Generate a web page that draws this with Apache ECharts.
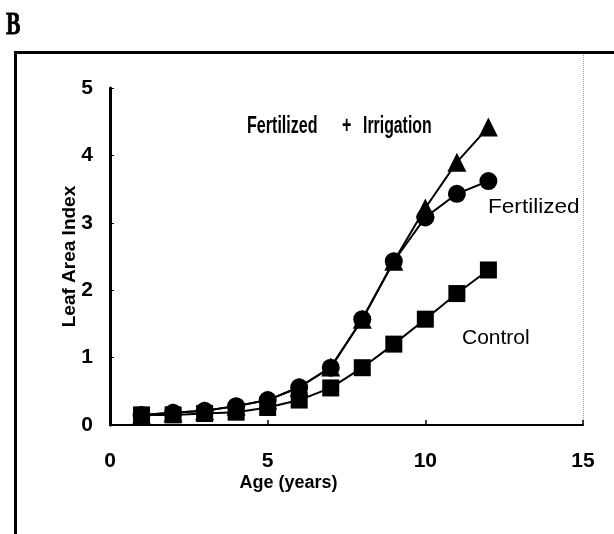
<!DOCTYPE html>
<html><head><meta charset="utf-8">
<script src="https://cdn.jsdelivr.net/npm/echarts@6/dist/echarts.min.js"></script>
<style>html,body{margin:0;padding:0;background:#fff}#c{width:614px;height:534px}</style>
</head><body><div id="c"></div>
<script>
// Data
const ages = [1, 2, 3, 4, 5, 6, 7, 8, 9, 10, 11, 12];
const controlLAI = [0.15, 0.15, 0.17, 0.19, 0.26, 0.37, 0.55, 0.85, 1.20, 1.57, 1.95, 2.30];
const fertilizedLAI = [0.15, 0.18, 0.21, 0.28, 0.37, 0.56, 0.85, 1.57, 2.43, 3.08, 3.43, 3.62];
const fertIrrigLAI = [0.15, 0.18, 0.21, 0.28, 0.37, 0.56, 0.86, 1.57, 2.43, 3.22, 3.90, 4.42];
const xTicks = [0, 5, 10, 15];
const yTicks = [0, 1, 2, 3, 4, 5];

const pairs = (ys) => ages.map((a, i) => [a, ys[i]]);
const chart = echarts.init(document.getElementById('c'), null, {renderer: 'canvas'});
const sans = '"Liberation Sans", Arial, sans-serif';

const lineSeries = (name, ys, symbol, size) => ({
  name, type: 'line', data: pairs(ys), symbol, symbolSize: size,
  showAllSymbol: true,
  itemStyle: {color: '#000'},
  lineStyle: {color: '#000', width: 2},
  emphasis: {disabled: true},
  animation: false
});

chart.setOption({
  backgroundColor: '#fff',
  animation: false,
  grid: {left: 110, right: 31, top: 88, bottom: 109},
  xAxis: {
    type: 'value', min: xTicks[0], max: xTicks[xTicks.length - 1], interval: xTicks[1] - xTicks[0],
    name: 'Age (years)', nameLocation: 'middle', nameGap: 49, nameMoveOverlap: false,
    nameTextStyle: {fontFamily: sans, fontWeight: 'bold', fontSize: 18, color: '#000', padding: [0, 116, 0, 0]},
    axisLine: {lineStyle: {color: '#000', width: 2}},
    axisTick: {inside: true, length: 5, lineStyle: {color: '#000', width: 1.5}},
    axisLabel: {fontFamily: sans, fontWeight: 'bold', fontSize: 21, color: '#000', margin: 26},
    splitLine: {show: false}
  },
  yAxis: {
    type: 'value', min: yTicks[0], max: yTicks[yTicks.length - 1], interval: yTicks[1] - yTicks[0],
    name: 'Leaf Area Index', nameLocation: 'middle', nameGap: 31, nameMoveOverlap: false,
    nameTextStyle: {fontFamily: sans, fontWeight: 'bold', fontSize: 19, color: '#000'},
    axisLine: {show: true, lineStyle: {color: '#000', width: 3}},
    axisTick: {show: true, inside: true, length: 4, lineStyle: {color: '#000', width: 1}},
    axisLabel: {fontFamily: sans, fontWeight: 'bold', fontSize: 21, color: '#000', margin: 17},
    splitLine: {show: false}
  },
  series: [
    lineSeries('Fertilized + Irrigation', fertIrrigLAI, 'triangle', 19),
    lineSeries('Fertilized', fertilizedLAI, 'circle', 18),
    lineSeries('Control', controlLAI, 'rect', 17)
  ],
  graphic: [
    {type: 'text', x: 6, y: 26, scaleX: 0.7, style: {text: 'B', x: 0, y: 0, fontFamily: '"Liberation Serif", serif', fontWeight: 900, fontSize: 31, fill: '#000', stroke: '#000', lineWidth: 0.8, verticalAlign: 'middle'}},
    {type: 'polyline', shape: {points: [[15.5, 534], [15.5, 52.5], [614, 52.5]]}, style: {stroke: '#000', lineWidth: 3, fill: null}},
    {type: 'line', shape: {x1: 583.5, y1: 55, x2: 583.5, y2: 425}, style: {stroke: '#999', lineWidth: 1, lineDash: [1, 1]}},
    {type: 'text', x: 247, y: 126, scaleX: 0.67, style: {text: 'Fertilized', x: 0, y: 0, fontFamily: sans, fontWeight: 'bold', fontSize: 24, fill: '#000', verticalAlign: 'middle'}},
    {type: 'text', x: 342, y: 126, scaleX: 0.67, style: {text: '+', x: 0, y: 0, fontFamily: sans, fontWeight: 'bold', fontSize: 24, fill: '#000', verticalAlign: 'middle'}},
    {type: 'text', x: 363, y: 126, scaleX: 0.66, style: {text: 'Irrigation', x: 0, y: 0, fontFamily: sans, fontWeight: 'bold', fontSize: 24, fill: '#000', verticalAlign: 'middle'}},
    {type: 'text', x: 488, y: 207, scaleX: 1.13, style: {text: 'Fertilized', x: 0, y: 0, fontFamily: sans, fontSize: 20, fill: '#000', verticalAlign: 'middle'}},
    {type: 'text', x: 462, y: 338, style: {text: 'Control', x: 0, y: 0, fontFamily: sans, fontSize: 21, fill: '#000', verticalAlign: 'middle'}}
  ]
});
</script></body></html>
